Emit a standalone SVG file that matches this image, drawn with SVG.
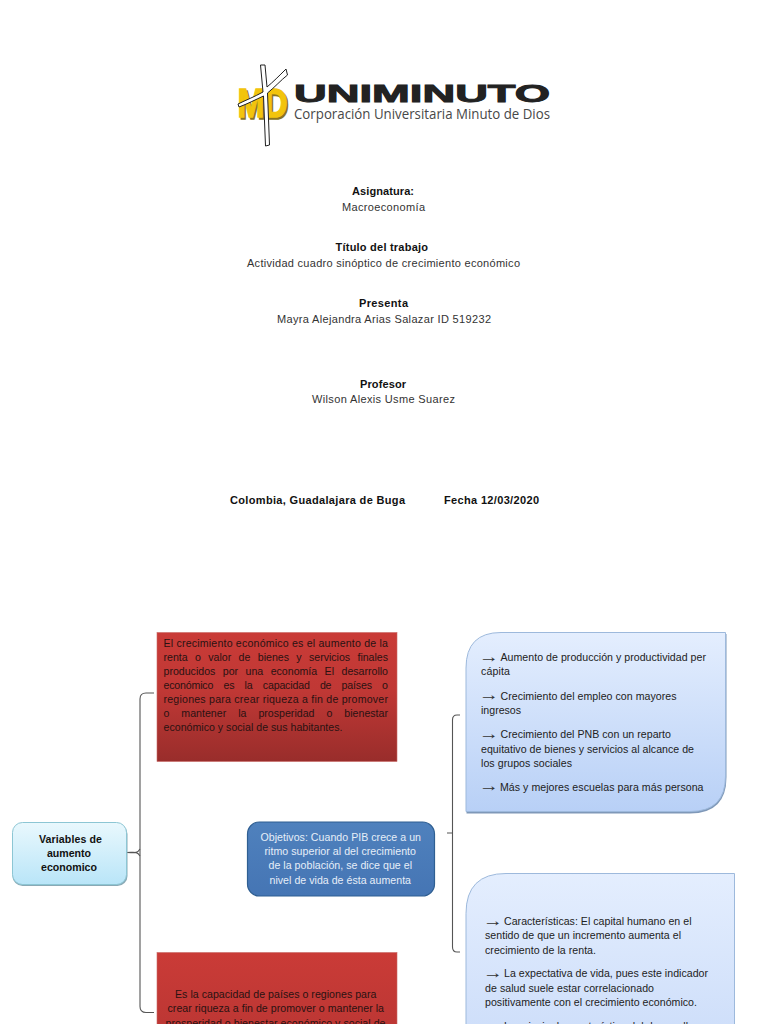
<svg xmlns="http://www.w3.org/2000/svg" width="768" height="1024" viewBox="0 0 768 1024">
<style>
text{font-family:"Liberation Sans",Arial,sans-serif;font-size:10.6px;fill:#222}
.b{font-weight:bold;fill:#111}
.h{font-size:11px;fill:#333}
.hb{font-size:11px;font-weight:bold;fill:#111}
.rt{fill:#2a1212}
.w{fill:#e6eef8}
.ar{font-size:16px;fill:#333}
.c{fill:none;stroke:#555;stroke-width:1.1}
.logo1{font-weight:bold;font-size:23px;fill:#222;stroke:#222;stroke-width:.9}
.logo2{font-family:"Open Sans","Liberation Sans",sans-serif;font-size:15px;fill:#484848}
.md{font-weight:bold;font-size:41px;fill:#f2c40c;stroke:#f2c40c;stroke-width:1.4}
</style>
<defs>
<linearGradient id="red" x1="0" y1="0" x2="0" y2="1"><stop offset="0" stop-color="#c93b37"/><stop offset=".45" stop-color="#c03835"/><stop offset="1" stop-color="#992d2b"/></linearGradient>
<linearGradient id="red2" x1="0" y1="0" x2="0" y2="1"><stop offset="0" stop-color="#ca3b37"/><stop offset="1" stop-color="#bd3734"/></linearGradient>
<linearGradient id="lb" x1="0" y1="0" x2="0" y2="1"><stop offset="0" stop-color="#e9f8fd"/><stop offset="1" stop-color="#b9e5f8"/></linearGradient>
<linearGradient id="pb" x1="0" y1="0" x2="0" y2="1"><stop offset="0" stop-color="#e4eefe"/><stop offset="1" stop-color="#b8d0f6"/></linearGradient>
<linearGradient id="pb2" x1="0" y1="0" x2="0" y2="1"><stop offset="0" stop-color="#e4eefe"/><stop offset="1" stop-color="#cfdffa"/></linearGradient>
<linearGradient id="bl" x1="0" y1="0" x2="0" y2="1"><stop offset="0" stop-color="#4f81bd"/><stop offset="1" stop-color="#4575b4"/></linearGradient>
</defs>
<rect width="768" height="1024" fill="#fff"/>

<g id="logo">
<text x="239" y="118.500" class="md" style="fill:#8a7420;stroke:#8a7420" textLength="50" lengthAdjust="spacingAndGlyphs">MD</text>
<text x="237.500" y="117" class="md" textLength="50" lengthAdjust="spacingAndGlyphs">MD</text>
<path d="M260.500 65L263 92C254 97 246 100 238 104L239 107C247 104 255 100 263.500 96L265.500 146L269.500 145L267.500 93C275 87 281 80 287.500 75L286 69C279 76 273 82 267 87L265 65Z" fill="#fff" stroke="#222" stroke-width="1" stroke-linejoin="round"/>
<text x="294" y="102" class="logo1" textLength="256" lengthAdjust="spacingAndGlyphs">UNIMINUTO</text>
<text x="294" y="119" class="logo2" textLength="256" lengthAdjust="spacingAndGlyphs">Corporación Universitaria Minuto de Dios</text>
</g>

<g id="cover">
<text x="352" y="195" class="hb" textLength="62">Asignatura:</text>
<text x="342" y="211" class="h" textLength="83">Macroeconomía</text>
<text x="335.500" y="251" class="hb" textLength="92.500">Título del trabajo</text>
<text x="247" y="267" class="h" textLength="273">Actividad cuadro sinóptico de crecimiento económico</text>
<text x="359" y="307" class="hb" textLength="49">Presenta</text>
<text x="277" y="323" class="h" textLength="214">Mayra Alejandra Arias Salazar ID 519232</text>
<text x="360" y="388" class="hb" textLength="46">Profesor</text>
<text x="312" y="403" class="h" textLength="143">Wilson Alexis Usme Suarez</text>
<text x="230" y="504" class="hb" textLength="175">Colombia, Guadalajara de Buga</text>
<text x="444" y="504" class="hb" textLength="95">Fecha 12/03/2020</text>
</g>

<g id="connectors">
<path class="c" d="M154 693L146 693Q140 693 140 699L140 1006.500Q140 1012.500 146 1012.500L154 1012.500"/>
<path class="c" d="M127 852.500C134 852.500 137 854 140 849M127 852.500C134 852.500 137 851 140 856"/>
<path class="c" d="M460 715L457 715Q452.500 715 452.500 720L452.500 947Q452.500 952 457 952L460 952M447 833L452.500 833"/>
</g>

<g id="root">
<rect x="12.500" y="824" width="115" height="62" rx="10" fill="#8aa9b5"/>
<rect x="12.500" y="822.500" width="114" height="62" rx="10" fill="url(#lb)" stroke="#8cc6d4" stroke-width="1"/>
<text x="39" y="843" class="b" textLength="63">Variables de</text>
<text x="47" y="857" class="b" textLength="44">aumento</text>
<text x="41" y="871" class="b" textLength="56">economico</text>
</g>

<g id="def1">
<rect x="157" y="632.500" width="240" height="129" fill="url(#red)" stroke="#c96a66" stroke-width=".6"/>
<text x="163.500" y="647" class="rt" textLength="224.500">El crecimiento económico es el aumento de la</text>
<text x="163.500" y="661" class="rt" style="word-spacing:4.500px" textLength="224.500">renta o valor de bienes y servicios finales</text>
<text x="163.500" y="674.500" class="rt" style="word-spacing:4.500px" textLength="224.500">producidos por una economía El desarrollo</text>
<text x="163.500" y="688.500" class="rt" style="word-spacing:7.500px" textLength="224.500">económico es la capacidad de países o</text>
<text x="163.500" y="702.500" class="rt" textLength="224.500">regiones para crear riqueza a fin de promover</text>
<text x="163.500" y="716.500" class="rt" style="word-spacing:9px" textLength="224.500">o mantener la prosperidad o bienestar</text>
<text x="163.500" y="731" class="rt" textLength="179">económico y social de sus habitantes.</text>
</g>

<g id="objetivos">
<rect x="247.500" y="822" width="187" height="74" rx="12" fill="url(#bl)" stroke="#2f5f92" stroke-width="1.200"/>
<text x="260.500" y="841" class="w" textLength="160.500">Objetivos: Cuando PIB crece a un</text>
<text x="264.500" y="855" class="w" textLength="151.500">ritmo superior al del crecimiento</text>
<text x="268.500" y="869" class="w" textLength="143.500">de la población, se dice que el</text>
<text x="269.500" y="883.500" class="w" textLength="141.500">nivel de vida de ésta aumenta</text>
</g>

<g id="def2">
<rect x="157" y="952.500" width="240" height="72" fill="url(#red2)" stroke="#c96a66" stroke-width=".6"/>
<text x="175" y="998" class="rt" textLength="201.500">Es la capacidad de países o regiones para</text>
<text x="167.500" y="1012" class="rt" textLength="216.500">crear riqueza a fin de promover o mantener la</text>
<text x="165.500" y="1026.500" class="rt" textLength="220">prosperidad o bienestar económico y social de</text>
</g>

<g id="indicadores">
<path d="M502 634L726.500 634L726.500 777Q726.500 813.500 690 813.500L466.500 813.500L466.500 670Q466.500 634 502 634Z" fill="#7f98b8"/>
<path d="M501 632.500L725.500 632.500L725.500 776Q725.500 811.500 690 811.500L466 811.500L466 668Q466 632.500 501 632.500Z" fill="url(#pb)" stroke="#9db9dc" stroke-width="1"/>
<text x="479" y="661.500" class="ar" textLength="20" lengthAdjust="spacingAndGlyphs">→</text>
<text x="500.500" y="661" textLength="205.500">Aumento de producción y productividad per</text>
<text x="481" y="675" textLength="29">cápita</text>
<text x="479" y="700" class="ar" textLength="20" lengthAdjust="spacingAndGlyphs">→</text>
<text x="500.500" y="699.500" textLength="176">Crecimiento del empleo con mayores</text>
<text x="481" y="713.500" textLength="40">ingresos</text>
<text x="479" y="738.500" class="ar" textLength="20" lengthAdjust="spacingAndGlyphs">→</text>
<text x="500.500" y="738" textLength="170.500">Crecimiento del PNB con un reparto</text>
<text x="481" y="752.500" textLength="213">equitativo de bienes y servicios al alcance de</text>
<text x="481" y="766.500" textLength="91">los grupos sociales</text>
<text x="479" y="791" class="ar" textLength="20" lengthAdjust="spacingAndGlyphs">→</text>
<text x="500" y="790.500" textLength="203.500">Más y mejores escuelas para más persona</text>
</g>

<g id="caracteristicas">
<path d="M506 873.500L734.500 873.500L734.500 1026L466 1026L466 913.500Q466 873.500 506 873.500Z" fill="url(#pb2)" stroke="#9db9dc" stroke-width="1"/>
<text x="483" y="925.500" class="ar" textLength="20" lengthAdjust="spacingAndGlyphs">→</text>
<text x="504" y="925" textLength="187.500">Características: El capital humano en el</text>
<text x="485" y="939" textLength="196">sentido de que un incremento aumenta el</text>
<text x="485" y="953.500" textLength="111">crecimiento de la renta.</text>
<text x="483" y="977.500" class="ar" textLength="20" lengthAdjust="spacingAndGlyphs">→</text>
<text x="504" y="977" textLength="204">La expectativa de vida, pues este indicador</text>
<text x="485" y="991.500" textLength="169">de salud suele estar correlacionado</text>
<text x="485" y="1006" textLength="212">positivamente con el crecimiento económico.</text>
<text x="483" y="1030.500" class="ar" textLength="20" lengthAdjust="spacingAndGlyphs">→</text>
<text x="504" y="1030" textLength="190">La principal característica del desarrollo</text>
</g>
</svg>
